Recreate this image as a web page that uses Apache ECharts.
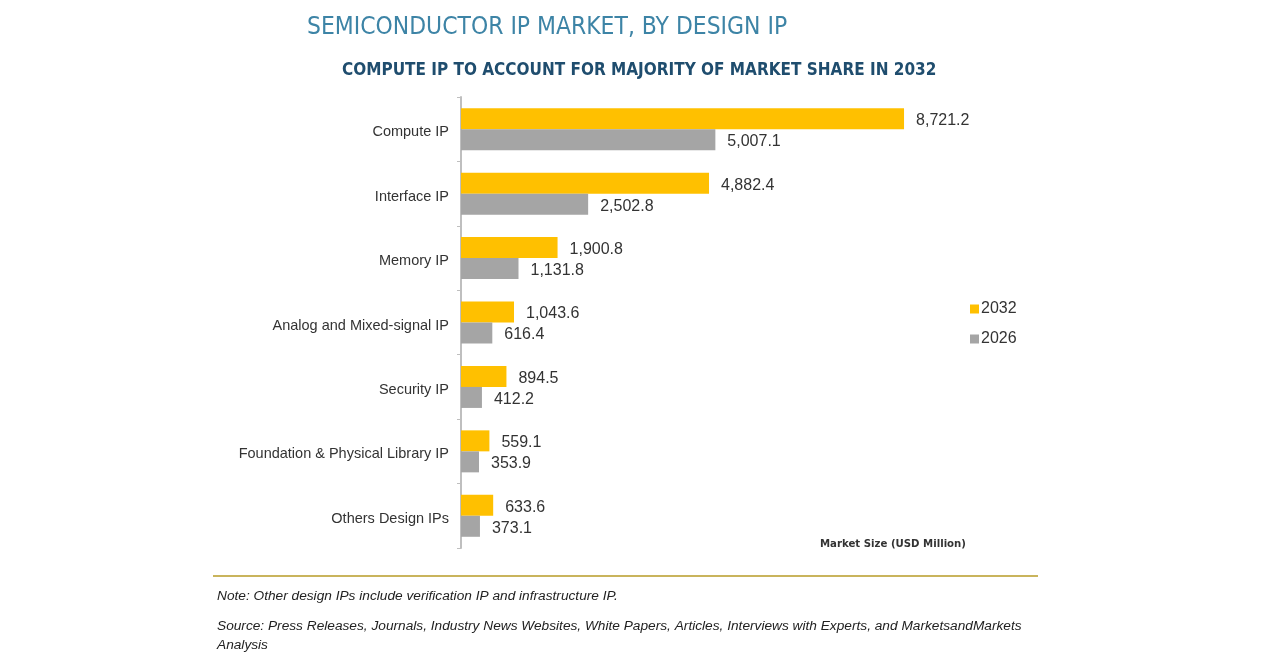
<!DOCTYPE html>
<html>
<head>
<meta charset="utf-8">
<title>Semiconductor IP Market, by Design IP</title>
<script src="https://cdn.jsdelivr.net/npm/echarts@6/dist/echarts.min.js"></script>
<style>
  html, body { margin: 0; padding: 0; background: #fff; }
  #chart { width: 1280px; height: 670px; }
</style>
</head>
<body>
<div id="chart"></div>
<script>
// data
var categories = ['Compute IP', 'Interface IP', 'Memory IP', 'Analog and Mixed-signal IP',
  'Security IP', 'Foundation & Physical Library IP', 'Others Design IPs'];
var values2032 = [8721.2, 4882.4, 1900.8, 1043.6, 894.5, 559.1, 633.6];
var values2026 = [5007.1, 2502.8, 1131.8, 616.4, 412.2, 353.9, 373.1];

var narrow = '"DejaVu Sans Condensed", "Liberation Sans", sans-serif';

function fmt(v) {
  return v.toLocaleString('en-US', { minimumFractionDigits: 1, maximumFractionDigits: 1 });
}

document.addEventListener("DOMContentLoaded", () => {
  var chart = echarts.init(document.querySelector("#chart"));
  chart.setOption({
    animation: false,
    title: [{
        text: 'SEMICONDUCTOR IP MARKET, BY DESIGN IP',
        left: 302,
        top: 11,
        textStyle: { fontFamily: narrow, fontSize: 24.4, fontWeight: 'normal', color: '#3d84a6' }
      },
      {
        text: 'COMPUTE IP TO ACCOUNT FOR MAJORITY OF MARKET SHARE IN 2032',
        left: 337,
        top: 57,
        textStyle: { fontFamily: narrow, fontSize: 17, fontWeight: 'bold', color: '#1f4d6e' }
      }
    ],
    legend: {
      orient: 'vertical',
      left: 965,
      top: 296,
      itemWidth: 9,
      itemHeight: 9,
      itemGap: 14,
      icon: 'rect',
      data: ['2032', '2026'],
      textStyle: { fontFamily: 'Liberation Sans', fontSize: 16, color: '#333', padding: [0, 0, 0, -3] }
    },
    grid: {
      left: 461,
      top: 97,
      width: 508,
      bottom: 122
    },
    xAxis: {
      type: 'value',
      min: 0,
      max: 10000,
      show: false
    },
    yAxis: {
      type: 'category',
      inverse: true,
      data: categories,
      axisLine: { show: true, lineStyle: { color: '#bfbfbf', width: 2 } },
      axisTick: { show: true, length: 4, lineStyle: { color: '#bfbfbf' } },
      axisLabel: {
        margin: 12,
        formatter: v => '{c|' + v + '}',
        rich: {
          c: { fontFamily: 'Liberation Sans', fontSize: 14.5, color: '#333', padding: [6, 0, 0, 0] }
        }
      }
    },
    series: [{
        name: '2032',
        type: 'bar',
        data: values2032,
        barWidth: 21,
        barGap: '0%',
        itemStyle: { color: '#ffc000' },
        label: {
          show: true,
          position: 'right',
          distance: 12,
          offset: [0, 2],
          fontFamily: 'Liberation Sans',
          fontSize: 16,
          color: '#333',
          formatter: p => fmt(p.value)
        }
      },
      {
        name: '2026',
        type: 'bar',
        data: values2026,
        barWidth: 21,
        barGap: '0%',
        itemStyle: { color: '#a5a5a5' },
        label: {
          show: true,
          position: 'right',
          distance: 12,
          offset: [0, 2],
          fontFamily: 'Liberation Sans',
          fontSize: 16,
          color: '#333',
          formatter: p => fmt(p.value)
        }
      }
    ],
    graphic: [{
        type: 'text',
        left: 820,
        top: 539,
        style: { text: 'Market Size (USD Million)', font: 'bold 11.3px ' + narrow, fill: '#333' }
      },
      {
        type: 'line',
        shape: { x1: 213, y1: 576, x2: 1038, y2: 576 },
        style: { stroke: '#c9b45c', lineWidth: 2 }
      },
      {
        type: 'text',
        left: 217,
        top: 589,
        style: { text: 'Note: Other design IPs include verification IP and infrastructure IP.', font: 'italic 13.7px "Liberation Sans", sans-serif', fill: '#222' }
      },
      {
        type: 'text',
        left: 217,
        top: 617,
        style: {
          text: 'Source: Press Releases, Journals, Industry News Websites, White Papers, Articles, Interviews with Experts, and MarketsandMarkets\nAnalysis',
          font: 'italic 13.7px "Liberation Sans", sans-serif',
          lineHeight: 19,
          fill: '#222'
        }
      }
    ]
  });
});
</script>
</body>
</html>
